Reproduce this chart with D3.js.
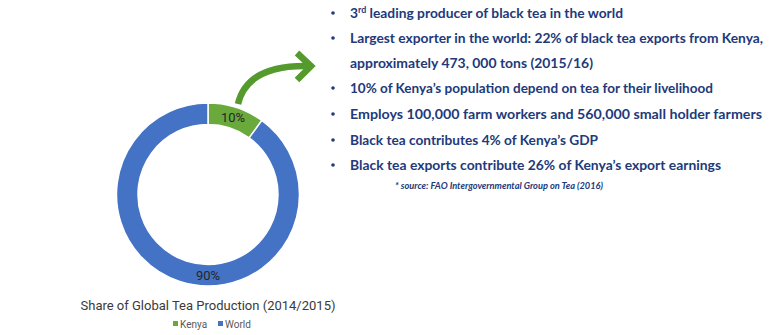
<!DOCTYPE html>
<html><head><meta charset="utf-8">
<script src="https://cdn.jsdelivr.net/npm/d3@7"></script>
<style>
html,body{margin:0;padding:0;background:#fff;}
svg{display:block;}
</style></head>
<body>
<svg id="c" width="780" height="335"></svg>
<script>
const categories = ["Kenya", "World"];
const shares = [10, 90];
const labels = ["10%", "90%"];
const chartTitle = "Share of Global Tea Production (2014/2015)";
const bullets = [
  ["3", "rd", " leading producer of black tea in the world"],
  ["Largest exporter in the world: 22% of black tea exports from Kenya,"],
  null,
  ["10% of Kenya’s population depend on tea for their livelihood"],
  ["Employs 100,000 farm workers and 560,000 small holder farmers"],
  ["Black tea contributes 4% of Kenya’s GDP"],
  ["Black tea exports contribute 26% of Kenya’s export earnings"]
];
const continuation = "approximately 473, 000 tons (2015/16)";
const sourceNote = "* source: FAO Intergovernmental Group on Tea (2016)";

const svg = d3.select("#c");
const colors = d3.scaleOrdinal().domain(categories).range(["#6aa93c", "#4472c4"]);

// Donut
const cx = 208, cy = 194.5, rOuter = 91.5, rInner = 70;
const pie = d3.pie().sort(null).value(d => d.v);
const data = categories.map((c, i) => ({c, v: shares[i], l: labels[i]}));
const arcs = pie(data);
const arc = d3.arc().innerRadius(rInner).outerRadius(rOuter);
const g = svg.append("g").attr("transform", `translate(${cx},${cy})`);
g.selectAll("path").data(arcs).join("path")
  .attr("d", arc)
  .attr("fill", d => colors(d.data.c))
  .attr("stroke", "#fff").attr("stroke-width", 1.5);

// labels: Kenya at centroid, World at bottom of ring
const labelArc = d3.arc().innerRadius(rInner).outerRadius(rOuter);
g.selectAll("text.lbl").data(arcs).join("text")
  .attr("class", "lbl")
  .attr("transform", (d, i) => {
    const p = i === 0 ? labelArc.centroid(d)
      : labelArc.centroid({startAngle: Math.PI - 0.1, endAngle: Math.PI + 0.1});
    return `translate(${p[0]},${p[1] + 1})`;
  })
  .attr("text-anchor", "middle").attr("dominant-baseline", "middle")
  .attr("font-family", "Roboto, sans-serif").attr("font-size", 13)
  .attr("fill", "#262626")
  .text(d => d.data.l);

// Title
svg.append("text").attr("x", 208).attr("y", 310).attr("text-anchor", "middle")
  .attr("font-family", "Roboto, sans-serif").attr("font-size", 13).attr("fill", "#3a3a3a")
  .text(chartTitle);

// Legend
const lg = svg.append("g").attr("transform", "translate(173,324)");
const items = lg.selectAll("g").data(categories).join("g")
  .attr("transform", (d, i) => `translate(${i * 45},0)`);
items.append("rect").attr("x", 0).attr("y", -3).attr("width", 5).attr("height", 5)
  .attr("fill", d => colors(d));
items.append("text").attr("x", 7).attr("y", 3.5)
  .attr("font-family", "Roboto, sans-serif").attr("font-size", 10).attr("fill", "#595959")
  .text(d => d);

// Arrow
const ag = svg.append("g").attr("fill", "none").attr("stroke", "#559a2c")
  .attr("stroke-width", 6.5).attr("stroke-linecap", "butt");
ag.append("path").attr("d", "M238,104 C244,78 268,65 309,66");
ag.append("path").attr("d", "M297,53 L311,66 L297,80").attr("stroke-linejoin", "miter");

// Bullets
const textColor = "#22397a";
const lineY = [13, 38, 63, 88, 114, 140, 165];
const lineEnd = [623, 763, 593, 713, 762, 598, 721];
const tg = svg.append("g").attr("font-family", "Lato, sans-serif")
  .attr("font-weight", 700).attr("font-size", 14).attr("fill", textColor);
lineY.forEach((y, i) => {
  if (bullets[i]) {
    tg.append("circle").attr("cx", 333).attr("cy", y).attr("r", 1.8).attr("fill", textColor);
  }
  const t = tg.append("text").attr("x", 350).attr("y", y + 5)
    .attr("textLength", lineEnd[i] - 350).attr("lengthAdjust", "spacingAndGlyphs");
  if (i === 0) {
    t.append("tspan").text(bullets[0][0]);
    t.append("tspan").attr("dy", -5).attr("font-size", 9).text(bullets[0][1]);
    t.append("tspan").attr("dy", 5).text(bullets[0][2]);
  } else if (bullets[i]) {
    t.text(bullets[i][0]);
  } else {
    t.text(continuation);
  }
});
svg.append("text").attr("x", 395).attr("y", 189)
  .attr("textLength", 208).attr("lengthAdjust", "spacingAndGlyphs")
  .attr("font-family", "Lato, sans-serif").attr("font-style", "italic").attr("font-weight", 700)
  .attr("font-size", 8.5).attr("fill", textColor).text(sourceNote);
</script>
</body></html>
